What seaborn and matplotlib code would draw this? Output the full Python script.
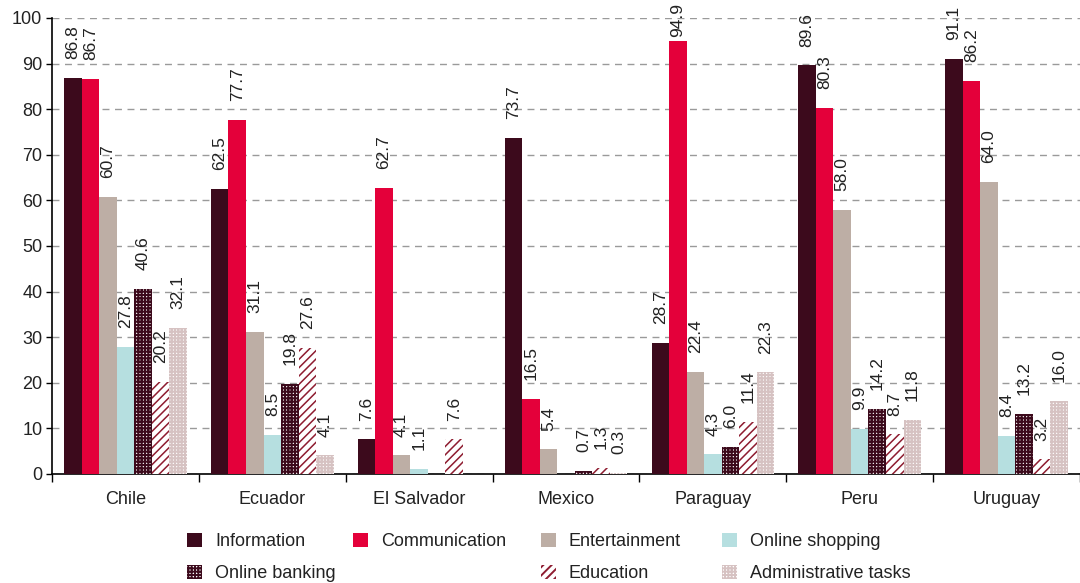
import matplotlib
matplotlib.use("Agg")
import matplotlib.pyplot as plt
from matplotlib.patches import Patch
from matplotlib.ticker import FixedLocator, MultipleLocator
import numpy as np
import pandas as pd
import seaborn as sns

# ---- data -------------------------------------------------------------
countries = ["Chile", "Ecuador", "El Salvador", "Mexico", "Paraguay", "Peru", "Uruguay"]
activities = ["Information", "Communication", "Entertainment", "Online shopping",
              "Online banking", "Education", "Administrative tasks"]

information = [86.8, 62.5, 7.6, 73.7, 28.7, 89.6, 91.1]
communication = [86.7, 77.7, 62.7, 16.5, 94.9, 80.3, 86.2]
entertainment = [60.7, 31.1, 4.1, 5.4, 22.4, 58.0, 64.0]
online_shopping = [27.8, 8.5, 1.1, np.nan, 4.3, 9.9, 8.4]
online_banking = [40.6, 19.8, np.nan, 0.7, 6.0, 14.2, 13.2]
education = [20.2, 27.6, 7.6, 1.3, 11.4, 8.7, 3.2]
administrative = [32.1, 4.1, np.nan, 0.3, 22.3, 11.8, 16.0]

series = [information, communication, entertainment, online_shopping,
          online_banking, education, administrative]

rows = []
for act, vals in zip(activities, series):
    for c, v in zip(countries, vals):
        rows.append({"country": c, "activity": act, "value": v})
df = pd.DataFrame(rows).dropna()

# ---- styling ----------------------------------------------------------
sns.set_style("white")
plt.rcParams["font.family"] = ["Liberation Sans", "DejaVu Sans"]
plt.rcParams["hatch.linewidth"] = 1.4

DARK = "#3c0a1c"
RED = "#e4003a"
BEIGE = "#bdaea5"
TEAL = "#b6dfe0"
EDU = "#8e1c30"
ADMIN = "#d6c2c2"
TEXT = "#222222"

colors = {
    "Information": DARK,
    "Communication": RED,
    "Entertainment": BEIGE,
    "Online shopping": TEAL,
    "Online banking": DARK,
    "Education": EDU,
    "Administrative tasks": ADMIN,
}
hatches = {
    "Online banking": "+++++",
    "Education": "////",
    "Administrative tasks": "+++++",
}
hatch_lw = {
    "Online banking": 1.5,
    "Education": 1.1,
    "Administrative tasks": 1.5,
}

fig = plt.figure(figsize=(10.8, 5.83), dpi=100)
ax = fig.add_axes([52 / 1080, 1 - 474 / 583, 1 - 52 / 1080, (474 - 18) / 583])

sns.barplot(data=df, x="country", y="value", hue="activity",
            order=countries, hue_order=activities, palette=colors,
            width=0.835, errorbar=None, saturation=1, legend=False,
            linewidth=0, ax=ax, zorder=3)

# patterns and value labels per series
value_labels = []
for act, cont in zip(activities, ax.containers):
    for bar in cont:
        bar.set_linewidth(0)
        if act in hatches:
            bar.set_facecolor("white")
            bar.set_edgecolor(colors[act])
            bar.set_hatch(hatches[act])
            if hasattr(bar, "set_hatch_linewidth"):
                bar.set_hatch_linewidth(hatch_lw[act])
    value_labels += ax.bar_label(cont, labels=[f"{v:.1f}" for v in cont.datavalues],
                                 rotation=90, padding=13.5, fontsize=12.5, color=TEXT)

# axes
ax.set_ylim(0, 100)
ax.set_xlim(-0.5, 6.5)
ax.yaxis.set_major_locator(MultipleLocator(10))
ax.grid(axis="y", linestyle=(0, (5, 4)), color="#9a9a9a", linewidth=1.0, zorder=0)
ax.set_axisbelow(True)
for s in ["top", "right"]:
    ax.spines[s].set_visible(False)
for s in ["left", "bottom"]:
    ax.spines[s].set_color("black")
    ax.spines[s].set_linewidth(1.2)
ax.tick_params(axis="y", which="major", left=True, length=4, width=1, color="black",
               labelsize=13, labelcolor=TEXT, pad=3)
ax.xaxis.set_minor_locator(FixedLocator(np.arange(-0.5, 7, 1.0)))
ax.tick_params(axis="x", which="major", length=0, labelsize=13, labelcolor=TEXT, pad=12)
ax.tick_params(axis="x", which="minor", bottom=True, length=6, width=1, color="black")
ax.set_xlabel("")
ax.set_ylabel("")

# legend, one block per column
def handle(act):
    if act in hatches:
        return Patch(facecolor="white", edgecolor=colors[act], hatch=hatches[act], linewidth=0)
    return Patch(facecolor=colors[act], edgecolor="none", linewidth=0)

columns = [
    (187, ["Information", "Online banking"]),
    (353, ["Communication"]),
    (541, ["Entertainment", "Education"]),
    (722, ["Online shopping", "Administrative tasks"]),
]
for x0, acts in columns:
    fig.legend(handles=[handle(a) for a in acts], labels=acts,
               loc="upper left", bbox_to_anchor=(x0 / 1080, 1 - 533 / 583),
               frameon=False, fontsize=13, labelcolor=TEXT,
               handlelength=0.85, handleheight=0.85, handletextpad=0.7,
               labelspacing=0.78, borderpad=0, borderaxespad=0)

# pull down any value label that would run past the top edge
fig.canvas.draw()
renderer = fig.canvas.get_renderer()
fig_h = fig.bbox.height
for ann in value_labels:
    bb = ann.get_window_extent(renderer)
    overflow = bb.y1 - (fig_h - 3)
    if overflow > 0:
        dx, dy = ann.xyann
        ann.xyann = (dx, dy - overflow * 72 / fig.dpi)

fig.savefig("out.png", dpi=100)
